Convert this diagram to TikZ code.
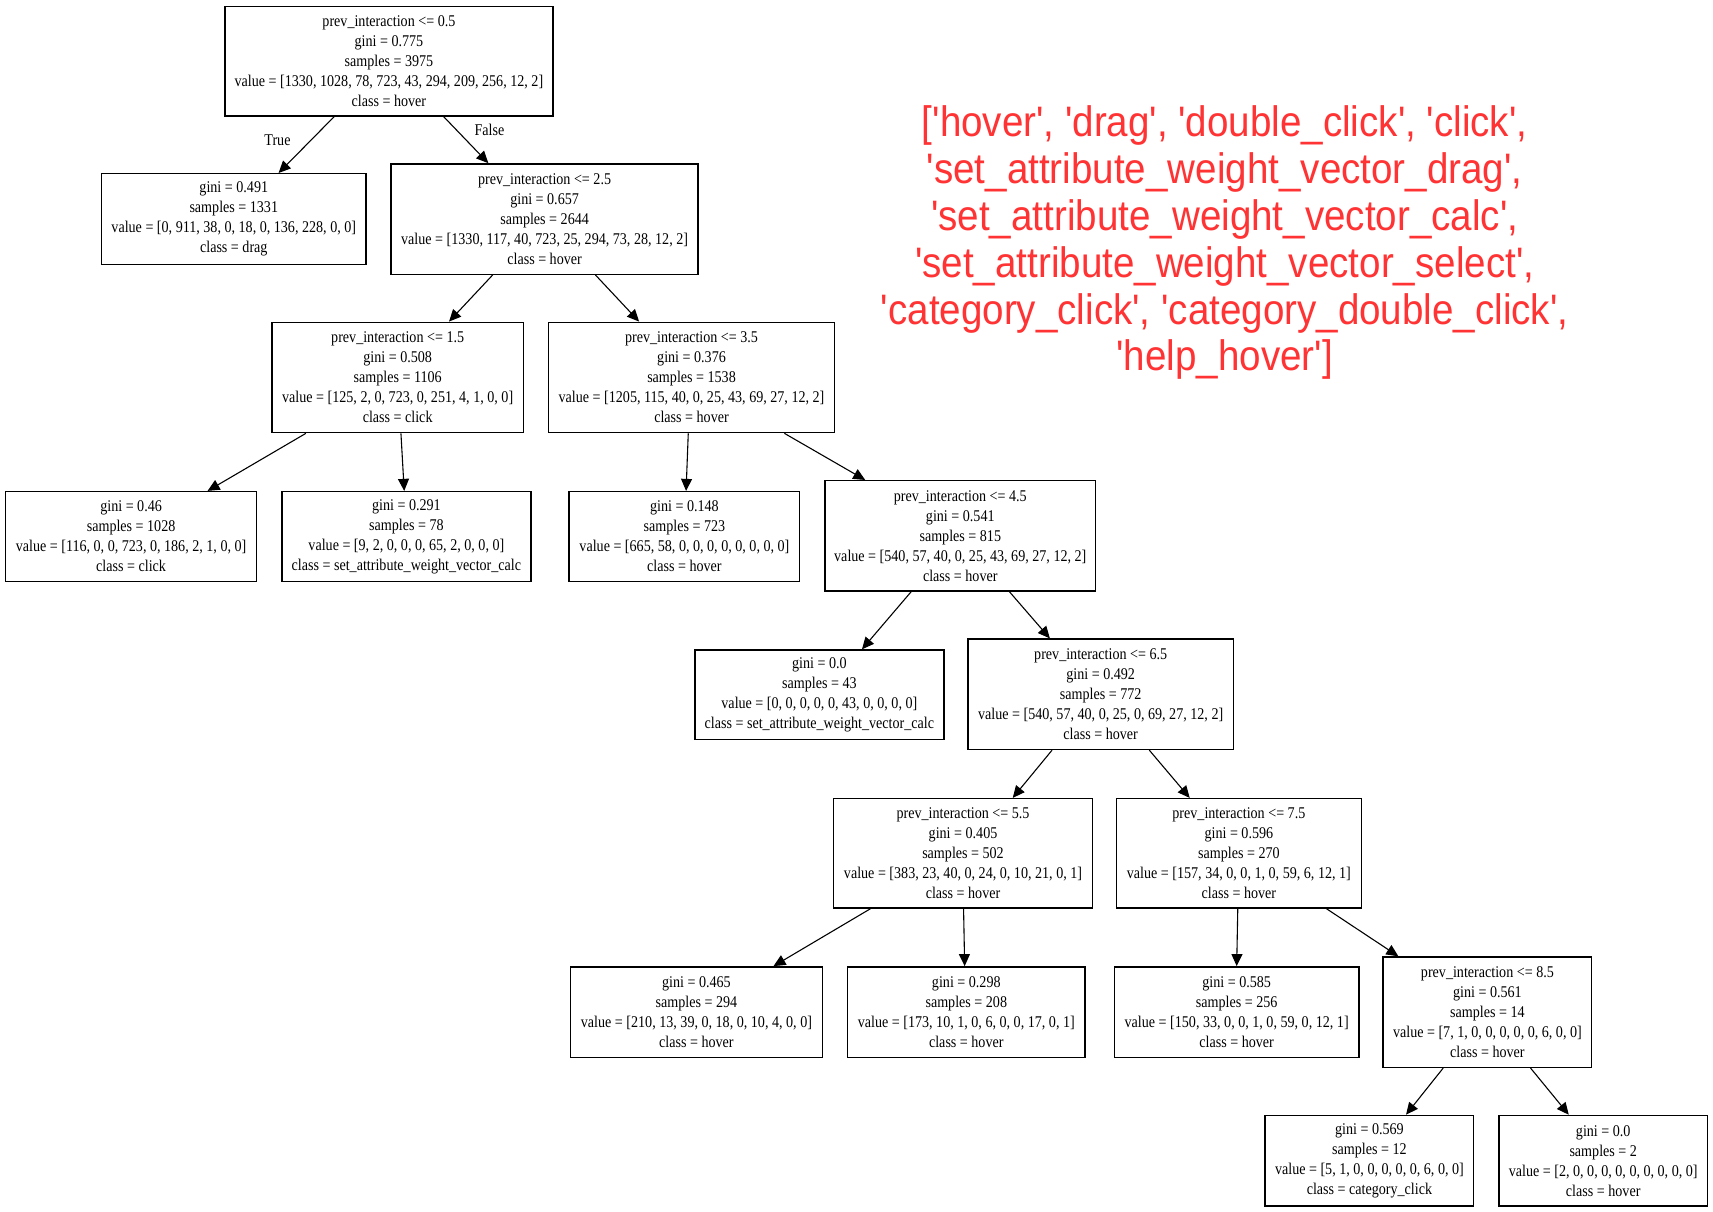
\documentclass[tikz,border=0pt]{standalone}
\usepackage{fontspec}
\usetikzlibrary{arrows.meta}
\newfontfamily\treefont[FakeStretch=0.86]{Liberation Serif}
\newfontfamily\redfont[FakeStretch=0.905]{Liberation Sans}
\definecolor{labred}{RGB}{255,51,51}
\begin{document}
\begin{tikzpicture}[x=1pt,y=-1pt,
  tbox/.style={draw, line width=1.3pt, align=center, inner sep=0pt,
    font=\treefont\fontsize{15}{18.3}\selectfont},
  edge/.style={line width=1pt, -{Triangle[length=11pt,width=10pt]}},
  elabel/.style={font=\treefont\fontsize{15}{18}\selectfont},
  redtext/.style={text=labred, align=center, font=\redfont\fontsize{39}{43}\selectfont}]
\useasboundingbox (0,0) rectangle (1568,1109.4);
\fill[white] (0,0) rectangle (1568,1109.4);

\node[tbox, minimum width=300pt, minimum height=100pt] (n0) at (356,56)
  {prev\_interaction <= 0.5\\gini = 0.775\\samples = 3975\\value = [1330, 1028, 78, 723, 43, 294, 209, 256, 12, 2]\\class = hover};
\node[tbox, minimum width=242pt, minimum height=83pt] (n1) at (214,200.5)
  {gini = 0.491\\samples = 1331\\value = [0, 911, 38, 0, 18, 0, 136, 228, 0, 0]\\class = drag};
\node[tbox, minimum width=281pt, minimum height=101pt] (n2) at (498.5,200.5)
  {prev\_interaction <= 2.5\\gini = 0.657\\samples = 2644\\value = [1330, 117, 40, 723, 25, 294, 73, 28, 12, 2]\\class = hover};
\node[tbox, minimum width=230pt, minimum height=101pt] (n3) at (364,345.5)
  {prev\_interaction <= 1.5\\gini = 0.508\\samples = 1106\\value = [125, 2, 0, 723, 0, 251, 4, 1, 0, 0]\\class = click};
\node[tbox, minimum width=262pt, minimum height=101pt] (n4) at (633,345.5)
  {prev\_interaction <= 3.5\\gini = 0.376\\samples = 1538\\value = [1205, 115, 40, 0, 25, 43, 69, 27, 12, 2]\\class = hover};
\node[tbox, minimum width=230pt, minimum height=82pt] (n5) at (120,491)
  {gini = 0.46\\samples = 1028\\value = [116, 0, 0, 723, 0, 186, 2, 1, 0, 0]\\class = click};
\node[tbox, minimum width=228pt, minimum height=82pt] (n6) at (372,491)
  {gini = 0.291\\samples = 78\\value = [9, 2, 0, 0, 0, 65, 2, 0, 0, 0]\\class = set\_attribute\_weight\_vector\_calc};
\node[tbox, minimum width=211pt, minimum height=82pt] (n7) at (626.5,491)
  {gini = 0.148\\samples = 723\\value = [665, 58, 0, 0, 0, 0, 0, 0, 0, 0]\\class = hover};
\node[tbox, minimum width=248pt, minimum height=101pt] (n8) at (879,490.5)
  {prev\_interaction <= 4.5\\gini = 0.541\\samples = 815\\value = [540, 57, 40, 0, 25, 43, 69, 27, 12, 2]\\class = hover};
\node[tbox, minimum width=228pt, minimum height=82pt] (n9) at (750,636)
  {gini = 0.0\\samples = 43\\value = [0, 0, 0, 0, 0, 43, 0, 0, 0, 0]\\class = set\_attribute\_weight\_vector\_calc};
\node[tbox, minimum width=243pt, minimum height=101pt] (n10) at (1007.5,635.5)
  {prev\_interaction <= 6.5\\gini = 0.492\\samples = 772\\value = [540, 57, 40, 0, 25, 0, 69, 27, 12, 2]\\class = hover};
\node[tbox, minimum width=237pt, minimum height=100pt] (n11) at (881.5,781)
  {prev\_interaction <= 5.5\\gini = 0.405\\samples = 502\\value = [383, 23, 40, 0, 24, 0, 10, 21, 0, 1]\\class = hover};
\node[tbox, minimum width=224pt, minimum height=100pt] (n12) at (1134,781)
  {prev\_interaction <= 7.5\\gini = 0.596\\samples = 270\\value = [157, 34, 0, 0, 1, 0, 59, 6, 12, 1]\\class = hover};
\node[tbox, minimum width=231pt, minimum height=83pt] (n13) at (637.5,926.5)
  {gini = 0.465\\samples = 294\\value = [210, 13, 39, 0, 18, 0, 10, 4, 0, 0]\\class = hover};
\node[tbox, minimum width=217pt, minimum height=83pt] (n14) at (884.5,926.5)
  {gini = 0.298\\samples = 208\\value = [173, 10, 1, 0, 6, 0, 0, 17, 0, 1]\\class = hover};
\node[tbox, minimum width=224pt, minimum height=83pt] (n15) at (1132,926.5)
  {gini = 0.585\\samples = 256\\value = [150, 33, 0, 0, 1, 0, 59, 0, 12, 1]\\class = hover};
\node[tbox, minimum width=191pt, minimum height=101pt] (n16) at (1361.5,926.5)
  {prev\_interaction <= 8.5\\gini = 0.561\\samples = 14\\value = [7, 1, 0, 0, 0, 0, 0, 6, 0, 0]\\class = hover};
\node[tbox, minimum width=191pt, minimum height=83pt] (n17) at (1253.5,1062.5)
  {gini = 0.569\\samples = 12\\value = [5, 1, 0, 0, 0, 0, 0, 6, 0, 0]\\class = category\_click};
\node[tbox, minimum width=191pt, minimum height=83pt] (n18) at (1467.5,1062.5)
  {gini = 0.0\\samples = 2\\value = [2, 0, 0, 0, 0, 0, 0, 0, 0, 0]\\class = hover};

\draw[edge] ([xshift=-50pt]n0.south) -- ([xshift=41pt]n1.north);
\draw[edge] ([xshift=50pt]n0.south) -- ([xshift=-51.5pt]n2.north);
\draw[edge] ([xshift=-47.5pt]n2.south) -- ([xshift=47pt]n3.north);
\draw[edge] ([xshift=46.5pt]n2.south) -- ([xshift=-48pt]n4.north);
\draw[edge] ([xshift=-84pt]n3.south) -- ([xshift=70pt]n5.north);
\draw[edge] ([xshift=3pt]n3.south) -- ([xshift=-2pt]n6.north);
\draw[edge] ([xshift=-3pt]n4.south) -- ([xshift=1.5pt]n7.north);
\draw[edge] ([xshift=85pt]n4.south) -- ([xshift=-87pt]n8.north);
\draw[edge] ([xshift=-45pt]n8.south) -- ([xshift=39pt]n9.north);
\draw[edge] ([xshift=45pt]n8.south) -- ([xshift=-46.5pt]n10.north);
\draw[edge] ([xshift=-44.5pt]n10.south) -- ([xshift=45.5pt]n11.north);
\draw[edge] ([xshift=44.5pt]n10.south) -- ([xshift=-45pt]n12.north);
\draw[edge] ([xshift=-84.5pt]n11.south) -- ([xshift=70.5pt]n13.north);
\draw[edge] ([xshift=0.5pt]n11.south) -- ([xshift=-1.5pt]n14.north);
\draw[edge] ([xshift=-1pt]n12.south) -- ([xshift=0pt]n15.north);
\draw[edge] ([xshift=80pt]n12.south) -- ([xshift=-81.5pt]n16.north);
\draw[edge] ([xshift=-40.5pt]n16.south) -- ([xshift=33.5pt]n17.north);
\draw[edge] ([xshift=39.5pt]n16.south) -- ([xshift=-31.5pt]n18.north);

\node[elabel] (lt) at (254,128) {True};
\node[elabel] (lf) at (448,119) {False};

\node[redtext] (legend) at (1121,222)
  {['hover', 'drag', 'double\_click', 'click',\\
   'set\_attribute\_weight\_vector\_drag',\\
   'set\_attribute\_weight\_vector\_calc',\\
   'set\_attribute\_weight\_vector\_select',\\
   'category\_click', 'category\_double\_click',\\
   'help\_hover']};
\end{tikzpicture}
\end{document}
